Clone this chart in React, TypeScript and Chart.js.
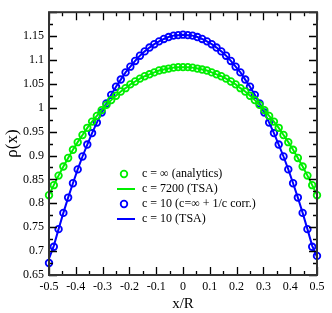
import React, { useEffect, useRef } from "react";
import { Chart, registerables } from "chart.js";

Chart.register(...registerables);

const xValues = [
  -0.5, -0.4821, -0.4643, -0.4464, -0.4286, -0.4107, -0.3929, -0.375, -0.3571, -0.3393,
  -0.3214, -0.3036, -0.2857, -0.2679, -0.25, -0.2321, -0.2143, -0.1964, -0.1786, -0.1607,
  -0.1429, -0.125, -0.1071, -0.0893, -0.0714, -0.0536, -0.0357, -0.0179, 0,
  0.0179, 0.0357, 0.0536, 0.0714, 0.0893, 0.1071, 0.125, 0.1429, 0.1607, 0.1786,
  0.1964, 0.2143, 0.2321, 0.25, 0.2679, 0.2857, 0.3036, 0.3214, 0.3393, 0.3571,
  0.375, 0.3929, 0.4107, 0.4286, 0.4464, 0.4643, 0.4821, 0.5,
];

// c = ∞ (analytics)
const rhoAnalytic = [
  0.817, 0.838, 0.858, 0.877, 0.895, 0.912, 0.928, 0.943, 0.958, 0.971,
  0.983, 0.995, 1.006, 1.016, 1.025, 1.034, 1.041, 1.049, 1.055, 1.061,
  1.066, 1.07, 1.074, 1.078, 1.08, 1.082, 1.084, 1.085, 1.085,
  1.085, 1.084, 1.082, 1.08, 1.078, 1.074, 1.07, 1.066, 1.061, 1.055,
  1.049, 1.041, 1.034, 1.025, 1.016, 1.006, 0.995, 0.983, 0.971, 0.958,
  0.943, 0.928, 0.912, 0.895, 0.877, 0.858, 0.838, 0.817,
];

// c = 7200 (TSA)
const rhoTsa7200 = [
  0.818, 0.838, 0.858, 0.877, 0.895, 0.912, 0.928, 0.943, 0.958, 0.971,
  0.983, 0.995, 1.006, 1.016, 1.025, 1.034, 1.041, 1.049, 1.055, 1.061,
  1.066, 1.07, 1.074, 1.078, 1.08, 1.082, 1.084, 1.085, 1.085,
  1.085, 1.084, 1.082, 1.08, 1.078, 1.074, 1.07, 1.066, 1.061, 1.055,
  1.049, 1.041, 1.034, 1.025, 1.016, 1.006, 0.995, 0.983, 0.971, 0.958,
  0.943, 0.928, 0.912, 0.895, 0.877, 0.858, 0.838, 0.818,
];

// c = 10 (c=∞ + 1/c corr.)
const rhoCorr10 = [
  0.675, 0.709, 0.746, 0.78, 0.812, 0.842, 0.871, 0.898, 0.923, 0.947,
  0.969, 0.99, 1.009, 1.027, 1.044, 1.059, 1.074, 1.086, 1.098, 1.109,
  1.118, 1.126, 1.133, 1.139, 1.144, 1.148, 1.151, 1.152, 1.153,
  1.152, 1.151, 1.148, 1.144, 1.139, 1.133, 1.126, 1.118, 1.109, 1.098,
  1.086, 1.074, 1.059, 1.044, 1.027, 1.009, 0.99, 0.969, 0.947, 0.923,
  0.898, 0.871, 0.842, 0.812, 0.78, 0.746, 0.709, 0.69,
];

// c = 10 (TSA)
const rhoTsa10 = [
  0.684, 0.711, 0.746, 0.78, 0.812, 0.842, 0.871, 0.898, 0.923, 0.947,
  0.969, 0.99, 1.009, 1.027, 1.044, 1.059, 1.074, 1.086, 1.098, 1.109,
  1.118, 1.126, 1.133, 1.139, 1.144, 1.148, 1.151, 1.152, 1.153,
  1.152, 1.151, 1.148, 1.144, 1.139, 1.133, 1.126, 1.118, 1.109, 1.098,
  1.086, 1.074, 1.059, 1.044, 1.027, 1.009, 0.99, 0.969, 0.947, 0.923,
  0.898, 0.871, 0.842, 0.812, 0.78, 0.746, 0.711, 0.688,
];

const seriesLabels = [
  "c = \u221e (analytics)",
  "c = 7200 (TSA)",
  "c = 10 (c=\u221e + 1/c corr.)",
  "c = 10 (TSA)",
];

const GREEN = "#00ee00";
const BLUE = "#0000ff";
const SERIF = '"Liberation Serif", "DejaVu Serif", serif';

const toPoints = (ys: number[]) => xValues.map((x, i) => ({ x, y: ys[i] }));

const fmt = (v: number) => {
  const r = Math.round(v * 1000) / 1000;
  if (Math.abs(r) < 1e-9) return "0";
  return String(r);
};

const framePlugin = {
  id: "frameTicks",
  afterDatasetsDraw(chart: any) {
    const { ctx, chartArea, scales } = chart;
    const { left, right, top, bottom } = chartArea;
    const xs = scales.x;
    const ys = scales.y;
    ctx.save();
    ctx.strokeStyle = "#000";
    ctx.lineWidth = 1.3;
    const major = 8;
    const minor = 4;
    const xt = xs.ticks.map((t: any) => t.value);
    const yt = ys.ticks.map((t: any) => t.value);
    ctx.beginPath();
    xt.forEach((v: number, i: number) => {
      const px = Math.round(xs.getPixelForValue(v)) + 0.5;
      ctx.moveTo(px, bottom);
      ctx.lineTo(px, bottom - major);
      ctx.moveTo(px, top);
      ctx.lineTo(px, top + major);
      if (i < xt.length - 1) {
        const m = Math.round(xs.getPixelForValue((v + xt[i + 1]) / 2)) + 0.5;
        ctx.moveTo(m, bottom);
        ctx.lineTo(m, bottom - minor);
        ctx.moveTo(m, top);
        ctx.lineTo(m, top + minor);
      }
    });
    yt.forEach((v: number, i: number) => {
      const py = Math.round(ys.getPixelForValue(v)) + 0.5;
      ctx.moveTo(left, py);
      ctx.lineTo(left + major, py);
      ctx.moveTo(right, py);
      ctx.lineTo(right - major, py);
      if (i < yt.length - 1) {
        const m = Math.round(ys.getPixelForValue((v + yt[i + 1]) / 2)) + 0.5;
        ctx.moveTo(left, m);
        ctx.lineTo(left + minor, m);
        ctx.moveTo(right, m);
        ctx.lineTo(right - minor, m);
      }
    });
    ctx.stroke();
    ctx.strokeStyle = "#333";
    ctx.lineWidth = 2;
    ctx.strokeRect(left, top, right - left, bottom - top);
    ctx.restore();
  },
  afterDraw(chart: any) {
    const { ctx } = chart;
    ctx.save();
    ctx.font = `12px ${SERIF}`;
    ctx.fillStyle = "#000";
    ctx.textBaseline = "middle";
    ctx.textAlign = "left";
    const symX = 124;
    const textX = 142;
    const rowY = [174, 189, 204, 219];
    chart.data.datasets.forEach((ds: any, i: number) => {
      const y = rowY[i];
      ctx.strokeStyle = ds.borderColor;
      if (ds.showLine) {
        ctx.lineWidth = 2;
        ctx.beginPath();
        ctx.moveTo(symX - 7, y);
        ctx.lineTo(symX + 11, y);
        ctx.stroke();
      } else {
        ctx.lineWidth = 1.8;
        ctx.beginPath();
        ctx.arc(symX, y, 3.3, 0, Math.PI * 2);
        ctx.stroke();
      }
      ctx.fillText(ds.label, textX, y);
    });
    ctx.restore();
  },
};

export default function App() {
  const ref = useRef<HTMLCanvasElement | null>(null);
  useEffect(() => {
    if (!ref.current) return;
    const chart = new Chart(ref.current, {
      type: "scatter",
      data: {
        datasets: [
          {
            label: seriesLabels[0],
            data: toPoints(rhoAnalytic),
            showLine: false,
            borderColor: GREEN,
            backgroundColor: "transparent",
            pointRadius: 3.3,
            pointBorderWidth: 1.8,
            clip: false as any,
          },
          {
            label: seriesLabels[1],
            data: toPoints(rhoTsa7200),
            showLine: true,
            borderColor: GREEN,
            borderWidth: 2,
            pointRadius: 0,
            backgroundColor: "transparent",
          },
          {
            label: seriesLabels[2],
            data: toPoints(rhoCorr10),
            showLine: false,
            borderColor: BLUE,
            backgroundColor: "transparent",
            pointRadius: 3.3,
            pointBorderWidth: 1.8,
            clip: false as any,
          },
          {
            label: seriesLabels[3],
            data: toPoints(rhoTsa10),
            showLine: true,
            borderColor: BLUE,
            borderWidth: 2,
            pointRadius: 0,
            backgroundColor: "transparent",
          },
        ],
      },
      options: {
        responsive: false,
        animation: false,
        layout: { padding: { top: 6, right: 15, left: 0, bottom: 0 } },
        plugins: { legend: { display: false }, tooltip: { enabled: false } },
        scales: {
          x: {
            type: "linear",
            min: -0.5,
            max: 0.5,
            grid: { display: false, drawTicks: false },
            border: { display: false },
            ticks: {
              stepSize: 0.1,
              padding: 5,
              color: "#000",
              maxRotation: 0,
              font: { family: SERIF, size: 12 },
              callback: (v: any) => fmt(Number(v)),
            },
            title: {
              display: true,
              text: "x/R",
              color: "#000",
              font: { family: SERIF, size: 15 },
              padding: { top: 0, bottom: 0 },
            },
            afterFit: (s: any) => {
              s.height = 38;
            },
          },
          y: {
            type: "linear",
            min: 0.65,
            max: 1.2,
            grid: { display: false, drawTicks: false },
            border: { display: false },
            ticks: {
              stepSize: 0.05,
              padding: 5,
              color: "#000",
              font: { family: SERIF, size: 12 },
              callback: (v: any) => (Number(v) > 1.19 ? "" : fmt(Number(v))),
            },
            title: {
              display: true,
              text: "\u03c1(x)",
              color: "#000",
              font: { family: SERIF, size: 17 },
              padding: { top: 2, bottom: 0 },
            },
            afterFit: (s: any) => {
              s.width = 49;
            },
          },
        },
      },
      plugins: [framePlugin],
    });
    return () => chart.destroy();
  }, []);
  return (
    <div style={{ position: "fixed", left: 0, top: 0, width: 332, height: 313, background: "#fff" }}>
      <canvas ref={ref} width={332} height={313} style={{ display: "block" }} />
    </div>
  );
}
